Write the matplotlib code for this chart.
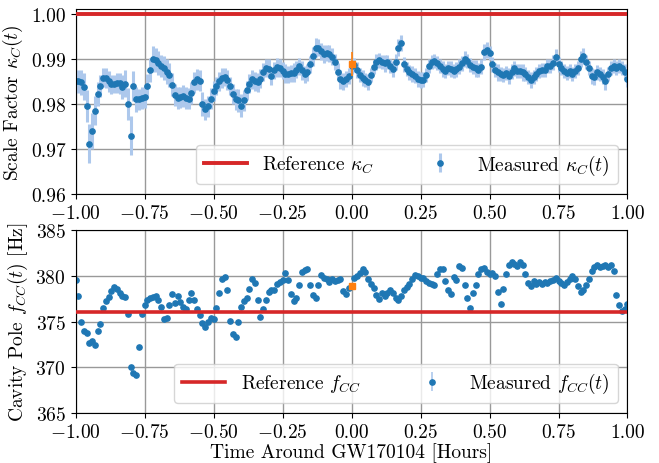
import numpy as np
import matplotlib
matplotlib.use("Agg")
import matplotlib.pyplot as plt

plt.rcParams['font.family'] = 'serif'
plt.rcParams['font.serif'] = ['cmr10', 'DejaVu Serif']
plt.rcParams['mathtext.fontset'] = 'cm'
plt.rcParams['axes.formatter.use_mathtext'] = True
plt.rcParams['font.size'] = 14

# time grid, hours around the event
hours = np.round(np.arange(-100, 101) / 100.0, 2)

kappa_c = [
    0.9850, 0.9850, 0.9848, 0.9838, 0.9795, 0.9712, 0.9740, 0.9785, 0.9822, 0.9840,
    0.9858, 0.9858, 0.9850, 0.9844, 0.9844, 0.9846, 0.9846, 0.9838, 0.9845, 0.9800,
    0.9730, 0.9840, 0.9810, 0.9810, 0.9813, 0.9816, 0.9840, 0.9876, 0.9900, 0.9898,
    0.9891, 0.9885, 0.9880, 0.9872, 0.9865, 0.9843, 0.9820, 0.9813, 0.9815, 0.9818,
    0.9813, 0.9812, 0.9825, 0.9848, 0.9855, 0.9852, 0.9800, 0.9788, 0.9795, 0.9812,
    0.9828, 0.9840, 0.9850, 0.9858, 0.9860, 0.9853, 0.9840, 0.9822, 0.9810, 0.9808,
    0.9796, 0.9808, 0.9830, 0.9845, 0.9855, 0.9850, 0.9848, 0.9856, 0.9870, 0.9880,
    0.9878, 0.9862, 0.9875, 0.9882, 0.9880, 0.9874, 0.9867, 0.9866, 0.9868, 0.9869,
    0.9876, 0.9884, 0.9875, 0.9866, 0.9870, 0.9888, 0.9906, 0.9925, 0.9925, 0.9917,
    0.9911, 0.9913, 0.9912, 0.9905, 0.9893, 0.9872, 0.9855, 0.9850, 0.9856, 0.9862,
    0.9884, 0.9887, 0.9875, 0.9865, 0.9858, 0.9853, 0.9849, 0.9865, 0.9882, 0.9893,
    0.9897, 0.9893, 0.9890, 0.9893, 0.9885, 0.9878, 0.9893, 0.9925, 0.9935, 0.9888,
    0.9878, 0.9870, 0.9866, 0.9863, 0.9856, 0.9854, 0.9854, 0.9864, 0.9885, 0.9893,
    0.9895, 0.9891, 0.9884, 0.9878, 0.9873, 0.9880, 0.9878, 0.9873, 0.9877, 0.9883,
    0.9890, 0.9900, 0.9895, 0.9886, 0.9882, 0.9879, 0.9876, 0.9883, 0.9915, 0.9920,
    0.9913, 0.9888, 0.9875, 0.9870, 0.9867, 0.9865, 0.9869, 0.9862, 0.9872, 0.9879,
    0.9873, 0.9873, 0.9870, 0.9866, 0.9860, 0.9854, 0.9860, 0.9866, 0.9873, 0.9876,
    0.9876, 0.9884, 0.9884, 0.9892, 0.9905, 0.9888, 0.9880, 0.9873, 0.9869, 0.9873,
    0.9866, 0.9873, 0.9880, 0.9900, 0.9906, 0.9893, 0.9880, 0.9862, 0.9860, 0.9870,
    0.9866, 0.9861, 0.9850, 0.9866, 0.9880, 0.9884, 0.9880, 0.9884, 0.9880, 0.9872,
    0.9855,
]

kappa_err = [
    0.0024, 0.0025, 0.0027, 0.0030, 0.0036, 0.0044, 0.0040, 0.0032, 0.0027, 0.0024,
    0.0021, 0.0022, 0.0023, 0.0021, 0.0020, 0.0022, 0.0023, 0.0026, 0.0030, 0.0036,
    0.0044, 0.0033, 0.0027, 0.0024, 0.0024, 0.0026, 0.0027, 0.0027, 0.0029, 0.0027,
    0.0026, 0.0024, 0.0026, 0.0027, 0.0027, 0.0026, 0.0024, 0.0024, 0.0023, 0.0024,
    0.0024, 0.0023, 0.0024, 0.0024, 0.0023, 0.0024, 0.0026, 0.0024, 0.0023, 0.0023,
    0.0022, 0.0021, 0.0021, 0.0022, 0.0021, 0.0022, 0.0021, 0.0022, 0.0024, 0.0025,
    0.0026, 0.0024, 0.0022, 0.0021, 0.0021, 0.0022, 0.0021, 0.0021, 0.0020, 0.0021,
    0.0021, 0.0019, 0.0019, 0.0021, 0.0019, 0.0019, 0.0021, 0.0019, 0.0019, 0.0021,
    0.0019, 0.0019, 0.0021, 0.0019, 0.0019, 0.0019, 0.0021, 0.0021, 0.0019, 0.0019,
    0.0019, 0.0018, 0.0019, 0.0019, 0.0018, 0.0019, 0.0021, 0.0019, 0.0018, 0.0018,
    0.0018, 0.0016, 0.0018, 0.0016, 0.0018, 0.0016, 0.0018, 0.0016, 0.0016, 0.0018,
    0.0016, 0.0016, 0.0018, 0.0016, 0.0016, 0.0018, 0.0018, 0.0019, 0.0018, 0.0016,
    0.0016, 0.0016, 0.0018, 0.0016, 0.0018, 0.0018, 0.0016, 0.0016, 0.0016, 0.0016,
    0.0016, 0.0016, 0.0016, 0.0018, 0.0016, 0.0016, 0.0018, 0.0016, 0.0016, 0.0016,
    0.0016, 0.0018, 0.0016, 0.0016, 0.0016, 0.0018, 0.0016, 0.0016, 0.0018, 0.0018,
    0.0016, 0.0016, 0.0016, 0.0018, 0.0016, 0.0016, 0.0016, 0.0018, 0.0016, 0.0016,
    0.0016, 0.0016, 0.0018, 0.0016, 0.0016, 0.0018, 0.0016, 0.0016, 0.0016, 0.0016,
    0.0016, 0.0016, 0.0016, 0.0016, 0.0018, 0.0016, 0.0016, 0.0016, 0.0016, 0.0016,
    0.0016, 0.0016, 0.0016, 0.0018, 0.0018, 0.0016, 0.0016, 0.0018, 0.0018, 0.0016,
    0.0016, 0.0016, 0.0018, 0.0016, 0.0016, 0.0016, 0.0016, 0.0016, 0.0016, 0.0016,
    0.0018,
]

f_cc = [
    379.5, 377.8, 375.0, 374.0, 373.7, 372.7, 372.9, 372.4, 374.0, 374.7,
    376.5, 377.2, 377.7, 378.3, 378.8, 378.6, 378.1, 377.8, 377.7, 375.8,
    370.0, 369.4, 369.2, 372.2, 375.8, 376.8, 377.4, 377.6, 377.7, 377.8,
    377.4, 376.6, 375.3, 375.4, 376.8, 378.0, 377.0, 377.8, 377.1, 376.6,
    376.4, 377.4, 378.1, 377.4, 376.4, 375.7, 374.8, 374.4, 375.0, 375.4,
    375.3, 376.5, 378.1, 379.6, 379.9, 378.5, 375.1, 373.6, 373.3, 374.9,
    376.6, 377.2, 377.6, 378.6, 379.6, 379.2, 377.3, 375.5, 376.4, 377.4,
    378.2, 378.5, 378.5, 379.1, 379.3, 379.5, 380.3, 379.5, 378.0, 377.2,
    377.6, 379.0, 380.4, 380.6, 380.7, 379.0, 377.9, 377.6, 379.0, 380.1,
    379.8, 379.6, 379.3, 379.6, 379.4, 379.5, 379.6, 378.3, 378.0, 378.7,
    378.9, 379.8, 380.0, 380.3, 380.7, 380.4, 379.7, 379.1, 378.7, 377.9,
    377.5, 378.1, 377.8, 378.1, 378.4, 378.1, 377.6, 377.3, 377.8, 378.4,
    378.8, 379.1, 379.6, 380.1, 380.0, 379.8, 379.8, 379.4, 379.2, 379.1,
    379.0, 380.2, 380.7, 380.7, 379.4, 378.4, 378.0, 379.9, 379.5, 381.1,
    380.9, 379.0, 377.6, 376.5, 378.1, 379.0, 380.2, 380.7, 380.8, 380.4,
    380.2, 380.3, 380.0, 378.2, 376.9, 378.6, 380.2, 381.2, 381.5, 381.3,
    381.1, 381.5, 381.2, 380.2, 379.2, 378.9, 379.4, 379.1, 379.3, 379.1,
    379.3, 379.2, 379.4, 379.5, 379.8, 379.4, 379.2, 379.0, 379.3, 379.6,
    380.0, 379.6, 378.9, 378.2, 378.5, 379.0, 379.6, 380.5, 381.0, 381.2,
    381.0, 381.1, 381.2, 381.0, 381.2, 380.5, 377.9, 376.8, 376.2, 376.4,
    376.9,
]
f_cc_err = 0.2

kappa_ref = 1.0
f_cc_ref = 376.0

# value at the event time
event_t = 0.0
event_kappa = 0.9889
event_kappa_err = 0.0026
event_fcc = 378.9

blue = '#1f77b4'
light = '#adc8ec'
orange = '#ff7f0e'
red = '#d62728'

fig = plt.figure(figsize=(6.59, 4.64), dpi=100)
ax1 = fig.add_axes([0.1146, 0.5797, 0.8376, 0.3987])
ax2 = fig.add_axes([0.1146, 0.1078, 0.8376, 0.3942])

# top: actuation scale factor
ax1.axhline(kappa_ref, color=red, lw=2.8, label=r'Reference $\kappa_C$', zorder=3)
ax1.errorbar(hours, kappa_c, yerr=kappa_err, fmt='o', ms=3.8, color=blue,
             ecolor=light, elinewidth=2.2, label=r'Measured $\kappa_C(t)$', zorder=2)
ax1.errorbar([event_t], [event_kappa], yerr=[event_kappa_err], fmt='s', ms=4.5,
             color=orange, ecolor=orange, elinewidth=1.2, zorder=4)
ax1.set_xlim(-1, 1)
ax1.set_ylim(0.96, 1.0011)
ax1.set_yticks([0.96, 0.97, 0.98, 0.99, 1.00])
ax1.set_yticklabels(['0.96', '0.97', '0.98', '0.99', '1.00'])
ax1.set_ylabel(r'Scale Factor $\kappa_C(t)$')
ax1.legend(loc='lower right', ncol=2, handlelength=2.2, columnspacing=2.3,
           fontsize=14)

# bottom: coupled cavity pole
ax2.axhline(f_cc_ref, color=red, lw=2.6, label=r'Reference $f_{CC}$', zorder=3)
ax2.errorbar(hours, f_cc, yerr=f_cc_err, fmt='o', ms=3.8, color=blue,
             ecolor=light, elinewidth=1.2, label=r'Measured $f_{CC}(t)$', zorder=2)
ax2.plot([event_t], [event_fcc], 's', ms=4.5, color=orange, zorder=4)
ax2.set_xlim(-1, 1)
ax2.set_ylim(365, 385)
ax2.set_yticks([365, 370, 375, 380, 385])
ax2.set_ylabel(r'Cavity Pole $f_{CC}(t)$ [Hz]')
ax2.set_xlabel('Time Around GW170104 [Hours]', labelpad=1)
ax2.legend(loc='lower right', ncol=2, handlelength=2.2, columnspacing=2.6,
           fontsize=14)

xt = [-1.0, -0.75, -0.5, -0.25, 0.0, 0.25, 0.5, 0.75, 1.0]
for ax in (ax1, ax2):
    ax.set_xticks(xt)
    ax.set_xticklabels([r'$%.2f$' % v if v < 0 else '%.2f' % v for v in xt])
    ax.grid(True, color='0.6', lw=1)
    ax.set_axisbelow(True)

fig.savefig('out.png', dpi=100)
